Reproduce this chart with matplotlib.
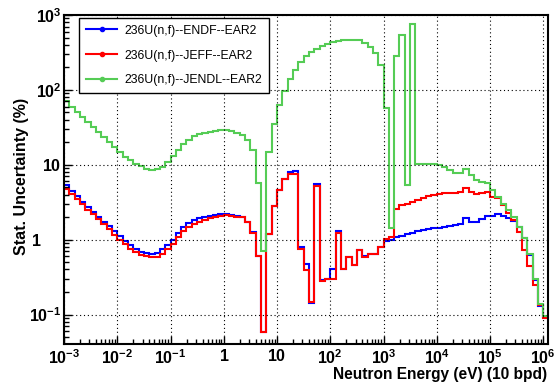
import numpy as np
import matplotlib
matplotlib.use("Agg")
import matplotlib.pyplot as plt
from matplotlib.lines import Line2D
from matplotlib.transforms import ScaledTranslation
from matplotlib.ticker import FixedLocator, FuncFormatter, LogLocator, NullFormatter

plt.rcParams['font.family'] = ['Liberation Sans', 'DejaVu Sans']
plt.rcParams['mathtext.fontset'] = 'custom'
plt.rcParams['mathtext.rm'] = 'Liberation Sans'
plt.rcParams['mathtext.bf'] = 'Liberation Sans:bold'

# 10 bins per decade, starting at 1 meV
bins_per_decade = 10
e_min_exp = -3
n_bins = 91

labels = ['236U(n,f)--ENDF--EAR2', '236U(n,f)--JEFF--EAR2', '236U(n,f)--JENDL--EAR2']

endf = [5.3, 4.5, 3.8, 3.19, 2.74, 2.35, 2.01, 1.73, 1.51, 1.31,
        1.11, 0.97, 0.85, 0.75, 0.69, 0.66, 0.64, 0.66, 0.74, 0.85,
        0.99, 1.23, 1.48, 1.67, 1.82, 1.92, 1.98, 2.06, 2.12, 2.17,
        2.18, 2.14, 2.06, 2.0, 1.73, 1.25, 0.6, 0.058, 1.2, 2.8,
        4.67, 6.4, 7.9, 8.2, 0.79, 0.47, 0.143, 5.6, 0.29, 0.30,
        0.41, 1.31, 0.41, 0.59, 0.457, 0.72, 0.6, 0.65, 0.64, 0.80,
        0.95, 1.0, 1.07, 1.13, 1.19, 1.24, 1.3, 1.34, 1.38, 1.42,
        1.45, 1.48, 1.51, 1.55, 1.6, 1.92, 1.73, 1.73, 1.86, 2.05,
        2.1, 2.23, 2.08, 1.95, 1.78, 1.48, 1.04, 0.62, 0.29, 0.13, 0.093]

jeff = [4.8, 4.13, 3.54, 3.04, 2.52, 2.19, 1.86, 1.61, 1.37, 1.15,
        1.0, 0.87, 0.76, 0.68, 0.63, 0.6, 0.58, 0.59, 0.64, 0.74,
        0.87, 1.07, 1.31, 1.48, 1.61, 1.73, 1.82, 1.92, 2.01, 2.08,
        2.12, 2.08, 2.03, 1.98, 1.7, 1.23, 0.6, 0.058, 1.2, 2.8,
        4.67, 6.4, 7.5, 7.6, 0.76, 0.39, 0.148, 5.2, 0.28, 0.30,
        0.295, 1.23, 0.40, 0.59, 0.457, 0.72, 0.58, 0.65, 0.64, 0.80,
        1.02, 1.1, 2.6, 2.88, 3.04, 3.19, 3.43, 3.61, 3.8, 4.0,
        4.13, 4.2, 4.25, 4.2, 4.35, 4.97, 4.35, 4.13, 4.25, 4.35,
        3.72, 3.55, 2.88, 2.25, 1.85, 1.25, 0.72, 0.44, 0.25, 0.135, 0.09]

jendl = [72, 60, 50.5, 43, 37, 32, 27.4, 23.5, 20, 17.2,
         14.8, 12.9, 11.5, 10.2, 9.5, 8.9, 8.6, 8.9, 9.35, 10.9,
         13, 15.9, 19.2, 21.7, 24, 25.5, 26.5, 27.4, 28.2, 28.8,
         28.8, 28.2, 26.9, 24.7, 21.2, 15.9, 5.7, 0.7, 14.8, 35.5,
         62, 98, 138, 182, 235, 280, 318, 355, 390, 414,
         434, 445, 457, 457, 457, 466, 419, 372, 309, 218,
         57, 1.45, 282, 546, 5.3, 748, 10.2, 10.2, 10.2, 10.1,
         9.8, 9.35, 8.45, 7.8, 7.8, 8.7, 7.25, 6.35, 5.9, 5.7,
         4.57, 3.7, 3.0, 2.5, 2.0, 1.48, 1.04, 0.65, 0.30, 0.138, 0.095]

colors = ['#0000ff', '#ff0000', '#55cc55']

edges = 10.0 ** (e_min_exp + np.arange(n_bins + 1) / bins_per_decade)

fig = plt.figure(figsize=(5.55, 3.83), dpi=100)
ax = fig.add_axes([64 / 555, 1 - 344 / 383, 483.7 / 555, 329 / 383])

for vals, col in zip([endf, jeff, jendl], colors):
    ax.stairs(vals, edges, baseline=None, color=col, lw=1.5)

ax.set_xscale('log')
ax.set_yscale('log')
ax.set_xlim(1e-3, 10 ** 6.083)
ax.set_ylim(10 ** -1.393, 1e3)


def log_label(v, pos):
    e = int(round(np.log10(v)))
    if e == 0:
        return r'$\mathbf{1}$'
    if e == 1:
        return r'$\mathbf{10}$'
    return r'$\mathbf{10^{%d}}$' % e


ax.xaxis.set_major_locator(FixedLocator([10.0 ** k for k in range(-3, 7)]))
ax.yaxis.set_major_locator(FixedLocator([10.0 ** k for k in range(-1, 4)]))
ax.xaxis.set_major_formatter(FuncFormatter(log_label))
ax.yaxis.set_major_formatter(FuncFormatter(log_label))
ax.xaxis.set_minor_locator(LogLocator(base=10, subs=np.arange(2, 10), numticks=30))
ax.yaxis.set_minor_locator(LogLocator(base=10, subs=np.arange(2, 10), numticks=30))
ax.xaxis.set_minor_formatter(NullFormatter())
ax.yaxis.set_minor_formatter(NullFormatter())

ax.tick_params(which='both', direction='in', top=False, right=False, labelsize=11.5)
ax.tick_params(which='major', length=6, width=1)
ax.tick_params(which='minor', length=3.5, width=1)
ax.tick_params(axis='x', pad=3)
ax.tick_params(axis='y', pad=2)
ax.grid(which='major', color='black', linestyle=(0, (1, 2.5)), linewidth=0.8)
for sp in ax.spines.values():
    sp.set_linewidth(1.5)

fig.text(22 / 555, 1 - 176 / 383, 'Stat. Uncertainty (%)', rotation=90,
         ha='center', va='center', fontsize=11.5, fontweight='bold')
fig.text(547 / 555, 1 - 374 / 383, 'Neutron Energy (eV) (10 bpd)',
         ha='right', va='center', fontsize=11.2, fontweight='bold')

handles = [Line2D([], [], color=c, lw=1.5, marker='o', markersize=3) for c in colors]
leg = ax.legend(handles, labels, loc='upper left', bbox_to_anchor=(0.031, 0.991),
                borderaxespad=0, fontsize=8.8, frameon=True, fancybox=False,
                edgecolor='black', framealpha=1, labelspacing=1.05,
                handlelength=2.6, handletextpad=0.55, borderpad=0.55)
leg.get_frame().set_linewidth(1.0)

# the "1" label on the y axis sits further left in the reference
fig.canvas.draw()
for tick in ax.yaxis.get_major_ticks():
    if abs(tick.get_loc() - 1.0) < 1e-9:
        lbl = tick.label1
        lbl.set_transform(lbl.get_transform() + ScaledTranslation(-0.2, 0, fig.dpi_scale_trans))

fig.savefig('out.png', dpi=100)
